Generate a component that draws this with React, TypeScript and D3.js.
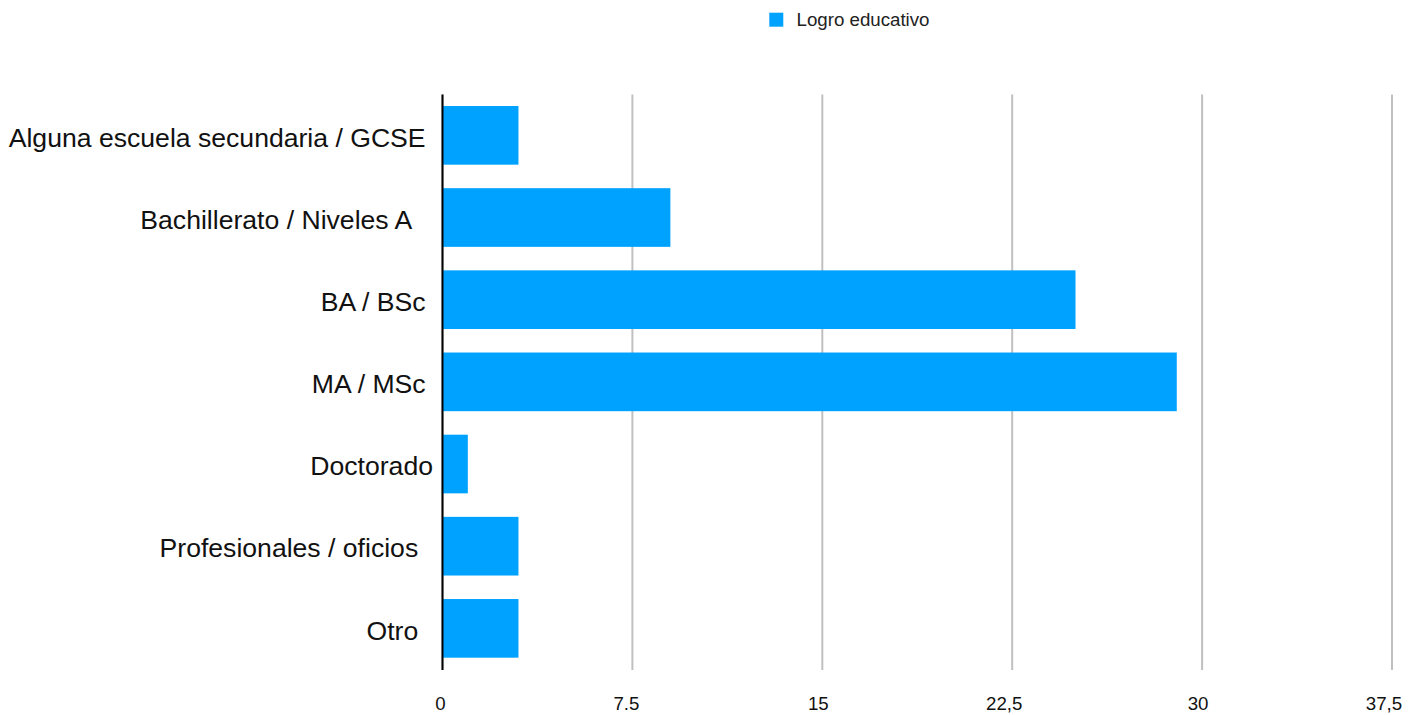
import React from "react";
import * as d3 from "d3";

const categories = [
  "Alguna escuela secundaria / GCSE ",
  "Bachillerato / Niveles A   ",
  "BA / BSc ",
  "MA / MSc ",
  "Doctorado",
  "Profesionales / oficios  ",
  "Otro  ",
];
const values = [3, 9, 25, 29, 1, 3, 3];
const tickValues = [0, 7.5, 15, 22.5, 30, 37.5];
const tickLabels = ["0", "7.5", "15", "22,5", "30", "37,5"];
const seriesName = "Logro educativo";

const W = 1417;
const H = 715;
const BAR = "#00a2ff";
const FONT = "'Liberation Sans', Arial, Helvetica, sans-serif";

export default function App() {
  const x = d3.scaleLinear().domain([0, 37.5]).range([442.5, 1392]);
  const y = d3
    .scaleBand<string>()
    .domain(categories)
    .range([94.5, 669.2])
    .paddingInner(0.286)
    .paddingOuter(0.14);
  const [y0, y1] = [94.5, 670];

  return (
    <svg
      width={W}
      height={H}
      style={{ position: "absolute", left: 0, top: 0, background: "#fff" }}
      fontFamily={FONT}
    >
      {/* legend */}
      <rect x={769.3} y={12.7} width={14} height={14} fill={BAR} />
      <text x={796.5} y={26} fontSize={18.7} fill="#222">
        {seriesName}
      </text>

      {/* gridlines */}
      {tickValues.map((t, i) => (
        <line
          key={"g" + i}
          x1={x(t)}
          x2={x(t)}
          y1={y0}
          y2={y1}
          stroke="#c0c0c0"
          strokeWidth={2}
        />
      ))}

      {/* bars */}
      {categories.map((c, i) => (
        <rect
          key={"b" + i}
          x={x(0)}
          y={y(c)!}
          width={x(values[i]) - x(0)}
          height={y.bandwidth()}
          fill={BAR}
        />
      ))}

      {/* zero axis */}
      <line x1={x(0)} x2={x(0)} y1={y0} y2={y1} stroke="#000" strokeWidth={2} />

      {/* category labels */}
      {categories.map((c, i) => (
        <text
          key={"c" + i}
          x={433}
          y={y(c)! + y.bandwidth() / 2 + 11.3}
          fontSize={26.6}
          textAnchor="end"
          fill="#111"
          style={{ whiteSpace: "pre" }}
        >
          {c}
        </text>
      ))}

      {/* tick labels */}
      {tickValues.map((t, i) => (
        <text
          key={"t" + i}
          x={x(t)}
          dx={-2 * tickLabels[i].length}
          y={710}
          fontSize={18.7}
          textAnchor="middle"
          fill="#111"
        >
          {tickLabels[i]}
        </text>
      ))}
    </svg>
  );
}
